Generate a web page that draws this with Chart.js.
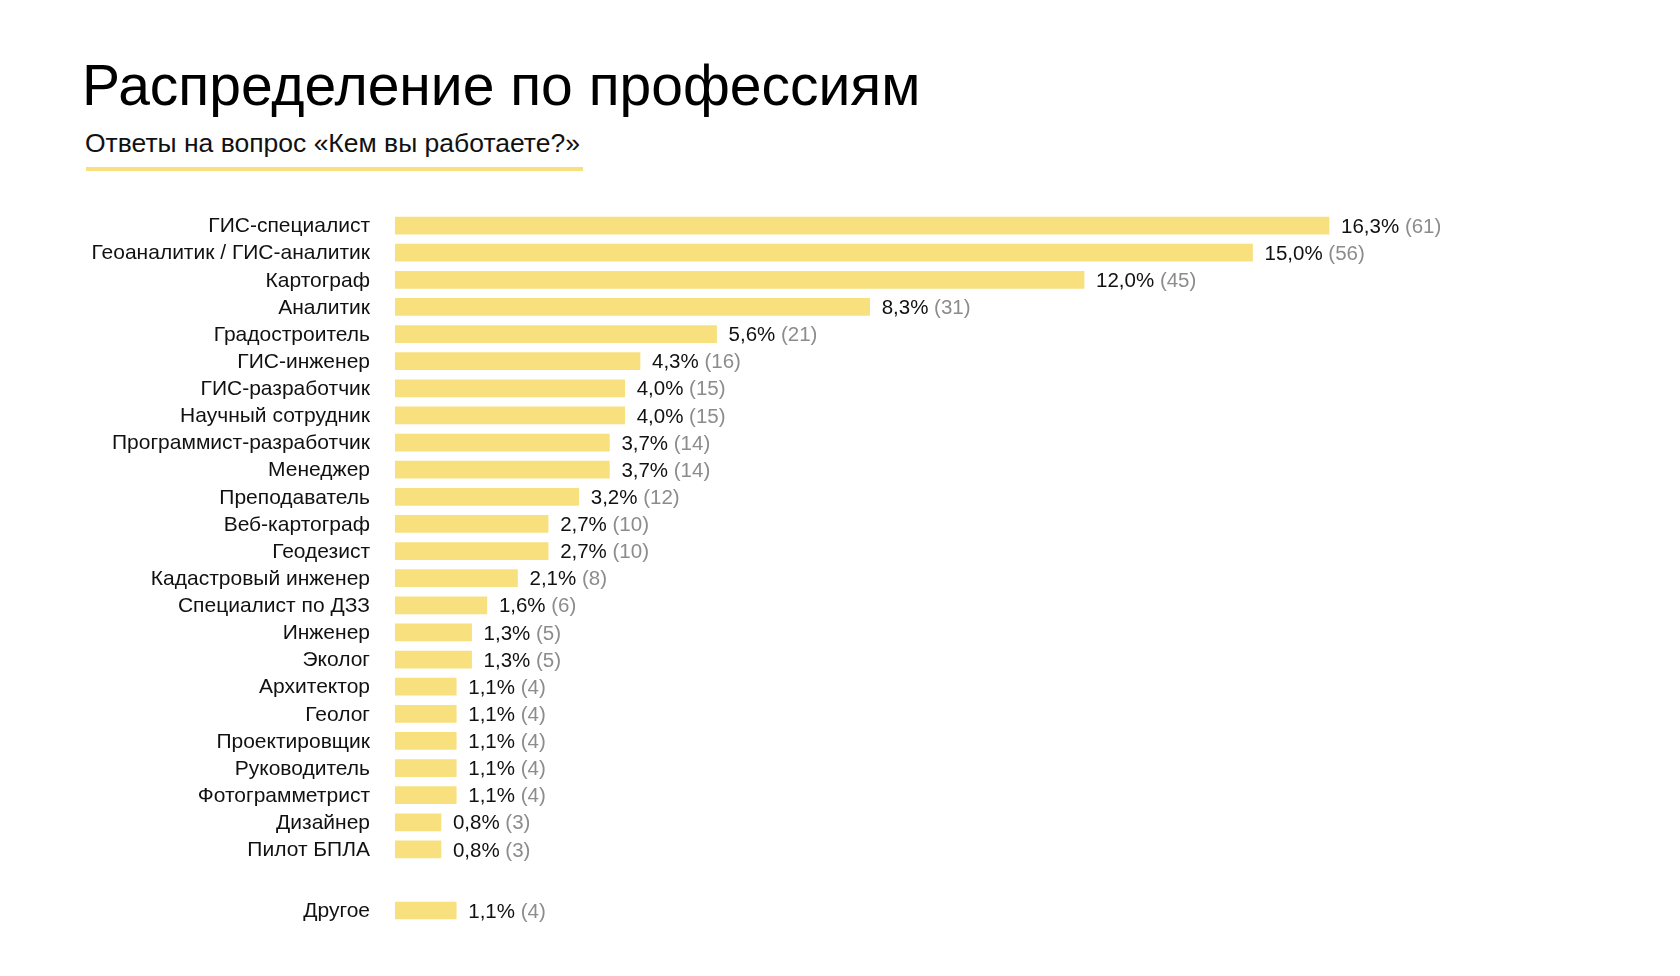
<!DOCTYPE html>
<html lang="ru">
<head>
<meta charset="utf-8">
<title>Распределение по профессиям</title>
<script src="https://cdn.jsdelivr.net/npm/chart.js@4/dist/chart.umd.min.js"></script>
<style>
  html, body { margin: 0; padding: 0; background: #fff; }
  body { width: 1680px; height: 976px; position: relative; overflow: hidden;
         font-family: "Liberation Sans", Arial, Helvetica, sans-serif; color: #000; }
  .title { position: absolute; left: 82px; top: 57px; font-size: 57px; line-height: 57px; white-space: nowrap; }
  .subtitle { position: absolute; left: 85px; top: 130px; font-size: 26.5px; line-height: 27px; white-space: nowrap; color: #111; }
  .underline { position: absolute; left: 86px; top: 167px; width: 497px; height: 4px; background: #f8e07e; }
  .box { position: absolute; left: 0; width: 1620px; }
  #mainBox { top: 212px; height: 651px; }
  #otherBox { top: 897px; height: 27px; }
</style>
</head>
<body>
<div class="title">Распределение по профессиям</div>
<div class="subtitle">Ответы на вопрос «Кем вы работаете?»</div>
<div class="underline"></div>
<div class="box" id="mainBox"><canvas id="mainChart"></canvas></div>
<div class="box" id="otherBox"><canvas id="otherChart"></canvas></div>

<script>
// ===== DATA =====
const professions = [
  'ГИС-специалист', 'Геоаналитик / ГИС-аналитик', 'Картограф', 'Аналитик',
  'Градостроитель', 'ГИС-инженер', 'ГИС-разработчик', 'Научный сотрудник',
  'Программист-разработчик', 'Менеджер', 'Преподаватель', 'Веб-картограф',
  'Геодезист', 'Кадастровый инженер', 'Специалист по ДЗЗ', 'Инженер',
  'Эколог', 'Архитектор', 'Геолог', 'Проектировщик', 'Руководитель',
  'Фотограмметрист', 'Дизайнер', 'Пилот БПЛА'
];
const counts = [61, 56, 45, 31, 21, 16, 15, 15, 14, 14, 12, 10, 10, 8, 6, 5, 5, 4, 4, 4, 4, 4, 3, 3];
const shares = [16.3, 15.0, 12.0, 8.3, 5.6, 4.3, 4.0, 4.0, 3.7, 3.7, 3.2, 2.7, 2.7, 2.1, 1.6, 1.3, 1.3, 1.1, 1.1, 1.1, 1.1, 1.1, 0.8, 0.8];

const otherLabels = ['Другое'];
const otherCounts = [4];
const otherShares = [1.1];

const FONT = '"Liberation Sans", Arial, Helvetica, sans-serif';
const BAR_COLOR = '#f8e07e';

// draws "16,3% (61)" to the right of each bar
const valueLabels = {
  id: 'valueLabels',
  afterDatasetsDraw(chart, args, opts) {
    const ctx = chart.ctx;
    const meta = chart.getDatasetMeta(0);
    ctx.save();
    ctx.font = '20.5px ' + FONT;
    ctx.textBaseline = 'middle';
    ctx.textAlign = 'left';
    meta.data.forEach((bar, i) => {
      const pct = opts.shares[i].toFixed(1).replace('.', ',') + '% ';
      const x = bar.x + 12;
      const y = bar.y + 1.5;
      ctx.fillStyle = '#111';
      ctx.fillText(pct, x, y);
      ctx.fillStyle = '#8c8c8c';
      ctx.fillText('(' + opts.counts[i] + ')', x + ctx.measureText(pct).width, y);
    });
    ctx.restore();
  }
};

function makeChart(id, labels, values, pcts) {
  return new Chart(document.getElementById(id), {
    type: 'bar',
    data: {
      labels: labels,
      datasets: [{
        data: values,
        backgroundColor: BAR_COLOR,
        borderWidth: 0,
        barThickness: 17
      }]
    },
    options: {
      indexAxis: 'y',
      responsive: true,
      maintainAspectRatio: false,
      animation: false,
      layout: { padding: 0 },
      plugins: {
        legend: { display: false },
        tooltip: { enabled: false },
        valueLabels: { shares: pcts, counts: values }
      },
      scales: {
        x: { display: false, min: 0, max: 80 },
        y: {
          grid: { display: false, drawTicks: true, tickLength: 25 },
          border: { display: false },
          ticks: {
            autoSkip: false,
            color: '#111',
            padding: 0,
            labelOffset: 1,
            font: { family: FONT, size: 21 }
          },
          afterFit: scale => {
            scale.width = 395;
            scale.paddingTop = 0;
            scale.paddingBottom = 0;
          }
        }
      }
    },
    plugins: [valueLabels]
  });
}

makeChart('mainChart', professions, counts, shares);
makeChart('otherChart', otherLabels, otherCounts, otherShares);
</script>
</body>
</html>
